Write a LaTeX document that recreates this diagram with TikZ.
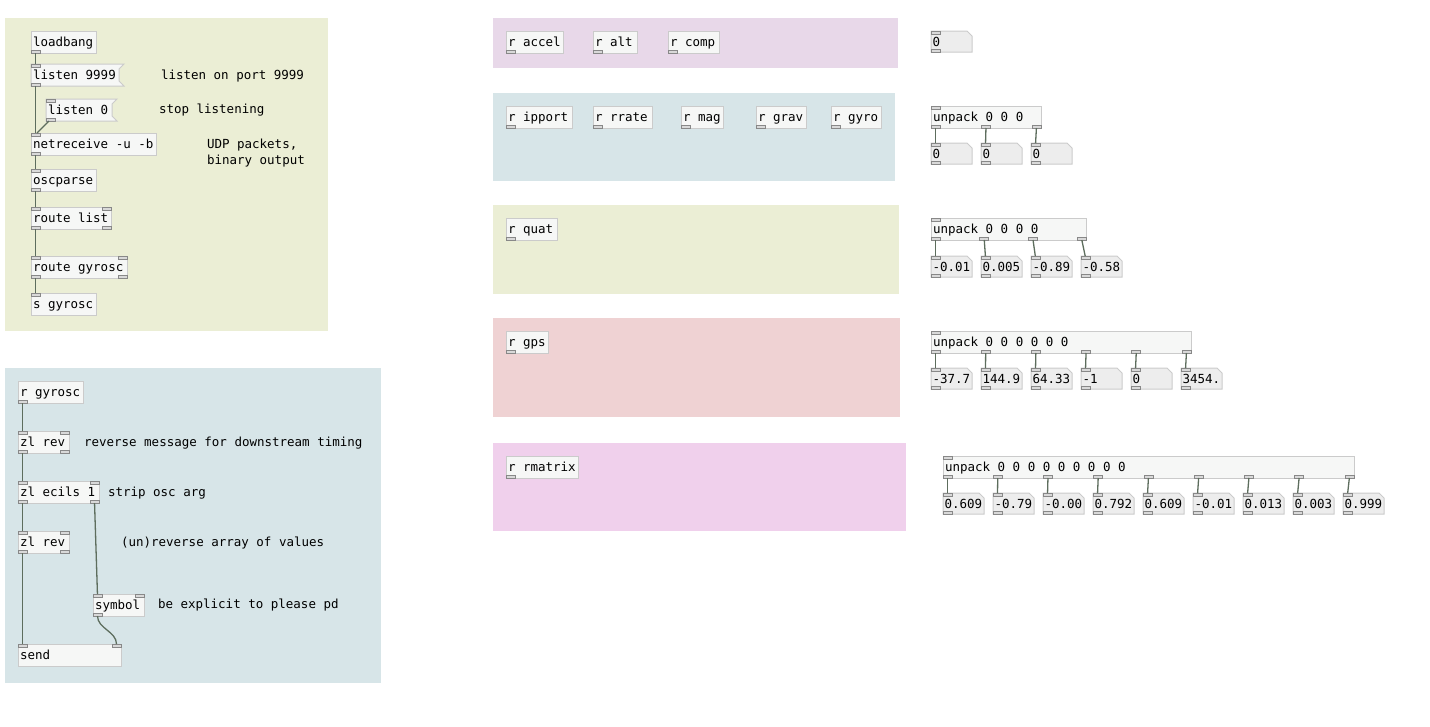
\documentclass[tikz,border=0pt]{standalone}
\usepackage{fontspec}
\setmonofont{DejaVu Sans Mono}
\usetikzlibrary{calc}

\definecolor{bgolive}{HTML}{EBEED5}
\definecolor{bgblue}{HTML}{D7E5E8}
\definecolor{bglilac}{HTML}{E8D8E9}
\definecolor{bgrose}{HTML}{EFD2D3}
\definecolor{bgpink}{HTML}{F0D0EC}
\definecolor{boxfill}{HTML}{F6F7F6}
\definecolor{boxline}{HTML}{CBCBCB}
\definecolor{numfill}{HTML}{EDEDED}
\definecolor{portfill}{HTML}{D9D9D9}
\definecolor{portline}{HTML}{888888}
\definecolor{wirecol}{HTML}{5D6D5D}

\tikzset{
  pdtext/.style={font=\ttfamily\fontsize{12.5}{15}\selectfont, inner sep=0pt, outer sep=0pt},
  pdbox/.style={draw=boxline, fill=boxfill, line width=1pt, anchor=north west,
    minimum height=22pt, inner sep=0pt, outer sep=0pt},
  port/.style={draw=portline, fill=portfill, line width=0.8pt, minimum width=9pt,
    minimum height=3pt, inner sep=0pt, outer sep=0pt},
  wire/.style={draw=wirecol, line width=1.3pt},
}

% name, width, inlets, outlets
\newcommand\pdports[4]{%
  \ifnum#3>0
    \foreach \k in {1,...,#3} {
      \pgfmathsetmacro\dx{(#2-9)*(\k-1)/max(#3-1,1)}
      \node[port, anchor=north west] (#1-i\k) at ([xshift=\dx pt]#1.north west) {};
    }
  \fi
  \ifnum#4>0
    \foreach \k in {1,...,#4} {
      \pgfmathsetmacro\dx{(#2-9)*(\k-1)/max(#4-1,1)}
      \node[port, anchor=south west] (#1-o\k) at ([xshift=\dx pt]#1.south west) {};
    }
  \fi}

% name, x, y, width, text, inlets, outlets
\newcommand\pdobj[7]{%
  \node[pdbox, minimum width=#4pt] (#1) at (#2,#3) {};
  \node[pdtext, anchor=base west] (#1-t) at ([shift={(2,15)}]#1.north west) {#5};
  \pdports{#1}{#4}{#6}{#7}}

% message box with the flag on the right
\newcommand\pdmsg[5]{%
  \node[pdbox, draw=none, fill=none, minimum width=#4pt] (#1) at (#2,#3) {};
  \filldraw[draw=boxline, fill=boxfill, line width=1pt] (#1.north west) -- (#1.north east)
    -- ([shift={(-5,5)}]#1.north east) -- ([shift={(-5,-5)}]#1.south east)
    -- (#1.south east) -- (#1.south west) -- cycle;
  \node[pdtext, anchor=base west] (#1-t) at ([shift={(2,15)}]#1.north west) {#5};
  \pdports{#1}{#4}{1}{1}}

% number box
\newcommand\pdnum[4]{%
  \node[pdbox, draw=none, fill=none, minimum width=41pt, minimum height=21pt] (#1) at (#2,#3) {};
  \filldraw[draw=boxline, fill=numfill, line width=1pt] (#1.north west)
    -- ([xshift=-5pt]#1.north east) -- ([yshift=-5pt]#1.north east)
    -- (#1.south east) -- (#1.south west) -- cycle;
  \node[pdtext, anchor=base west] (#1-t) at ([shift={(1.5,15)}]#1.north west) {#4};
  \pdports{#1}{41}{1}{1}}

\newcommand\pdcomment[4]{%
  \node[pdtext, anchor=base west] (#1) at (#2,#3) {#4};}

\begin{document}
\begin{tikzpicture}[x=1pt, y=-1pt]
  \useasboundingbox (0,0) rectangle (1430,726);

  % canvases
  \fill[bgolive] (5,18) rectangle (328,331);
  \fill[bgblue] (5,368) rectangle (381,683);
  \fill[bglilac] (493,18) rectangle (898,68);
  \fill[bgblue] (493,93) rectangle (895,181);
  \fill[bgolive] (493,205) rectangle (899,294);
  \fill[bgrose] (493,318) rectangle (900,417);
  \fill[bgpink] (493,443) rectangle (906,531);

  % udp in
  \pdobj{loadbang}{31}{31}{65}{loadbang}{0}{1}
  \pdmsg{listen}{31}{64}{93}{listen 9999}
  \pdmsg{stop}{46}{99}{71}{listen 0}
  \pdobj{netrecv}{31}{133}{125}{netreceive -u -b}{1}{1}
  \pdobj{oscparse}{31}{169}{65}{oscparse}{1}{1}
  \pdobj{rlist}{31}{207}{80}{route list}{2}{2}
  \pdobj{rgyr}{31}{256}{96}{route gyrosc}{2}{2}
  \pdobj{sgyr}{31}{293}{65}{s gyrosc}{1}{0}

  \pdcomment{cport}{161}{79}{listen on port 9999}
  \pdcomment{cstop}{159}{113}{stop listening}
  \pdcomment{cudp}{207}{148}{UDP packets,}
  \pdcomment{cbin}{207}{164}{binary output}

  \draw[wire] (loadbang-o1) -- (listen-i1);
  \draw[wire] (listen-o1) -- (netrecv-i1);
  \draw[wire] (stop-o1) -- (netrecv-i1);
  \draw[wire] (netrecv-o1) -- (oscparse-i1);
  \draw[wire] (oscparse-o1) -- (rlist-i1);
  \draw[wire] (rlist-o1) -- (rgyr-i1);
  \draw[wire] (rgyr-o1) -- (sgyr-i1);

  % send on
  \pdobj{recv}{18}{381}{65}{r gyrosc}{0}{1}
  \pdobj{zlrev}{18}{431}{51}{zl rev}{2}{2}
  \pdobj{zlecils}{18}{481}{81}{zl ecils 1}{2}{2}
  \pdobj{zlunrev}{18}{531}{51}{zl rev}{2}{2}
  \pdobj{symbol}{93}{594}{51}{symbol}{2}{1}
  \pdobj{send}{18}{644}{103}{send}{2}{0}

  \pdcomment{crev}{84}{446}{reverse message for downstream timing}
  \pdcomment{cstrip}{108}{496}{strip osc arg}
  \pdcomment{cunrev}{121}{546}{(un)reverse array of values}
  \pdcomment{cexpl}{158}{608}{be explicit to please pd}

  \draw[wire] (recv-o1) -- (zlrev-i1);
  \draw[wire] (zlrev-o1) -- (zlecils-i1);
  \draw[wire] (zlecils-o1) -- (zlunrev-i1);
  \draw[wire] (zlunrev-o1) -- (send-i1);
  \draw[wire] (zlecils-o2) -- (symbol-i1);
  \draw[wire] (symbol-o1) .. controls +(0,14) and +(0,-14) .. (send-i2);

  % receivers
  \foreach \nm/\x/\w in {accel/506/57, alt/593/44, comp/668/51}
    \pdobj{r\nm}{\x}{31}{\w}{r \nm}{0}{1};
  \foreach \nm/\x/\w in {ipport/506/66, rrate/593/59, mag/681/42, grav/756/50, gyro/831/50}
    \pdobj{r\nm}{\x}{106}{\w}{r \nm}{0}{1};
  \pdobj{rquat}{506}{218}{51}{r quat}{0}{1}
  \pdobj{rgps}{506}{331}{42}{r gps}{0}{1}
  \pdobj{rmatrix}{506}{456}{72}{r rmatrix}{0}{1}

  % readouts
  \pdnum{single}{931}{31}{0}

  \pdobj{unpackA}{931}{106}{110}{unpack 0 0 0}{1}{3}
  \foreach \v [count=\i] in {0,0,0} {
    \pgfmathsetmacro\x{931+50*(\i-1)}
    \pdnum{a\i}{\x}{143}{\v}
    \draw[wire] (unpackA-o\i) -- (a\i-i1);
  }

  \pdobj{unpackQ}{931}{218}{155}{unpack 0 0 0 0}{1}{4}
  \foreach \v [count=\i] in {-0.01,0.005,-0.89,-0.58} {
    \pgfmathsetmacro\x{931+50*(\i-1)}
    \pdnum{q\i}{\x}{256}{\v}
    \draw[wire] (unpackQ-o\i) -- (q\i-i1);
  }

  \pdobj{unpackG}{931}{331}{260}{unpack 0 0 0 0 0 0}{1}{6}
  \foreach \v [count=\i] in {-37.7,144.9,64.33,-1,0,3454.} {
    \pgfmathsetmacro\x{931+50*(\i-1)}
    \pdnum{g\i}{\x}{368}{\v}
    \draw[wire] (unpackG-o\i) -- (g\i-i1);
  }

  \pdobj{unpackM}{943}{456}{411}{unpack 0 0 0 0 0 0 0 0 0}{1}{9}
  \foreach \v [count=\i] in {0.609,-0.79,-0.00,0.792,0.609,-0.01,0.013,0.003,0.999} {
    \pgfmathsetmacro\x{943+50*(\i-1)}
    \pdnum{m\i}{\x}{493}{\v}
    \draw[wire] (unpackM-o\i) -- (m\i-i1);
  }
\end{tikzpicture}
\end{document}
